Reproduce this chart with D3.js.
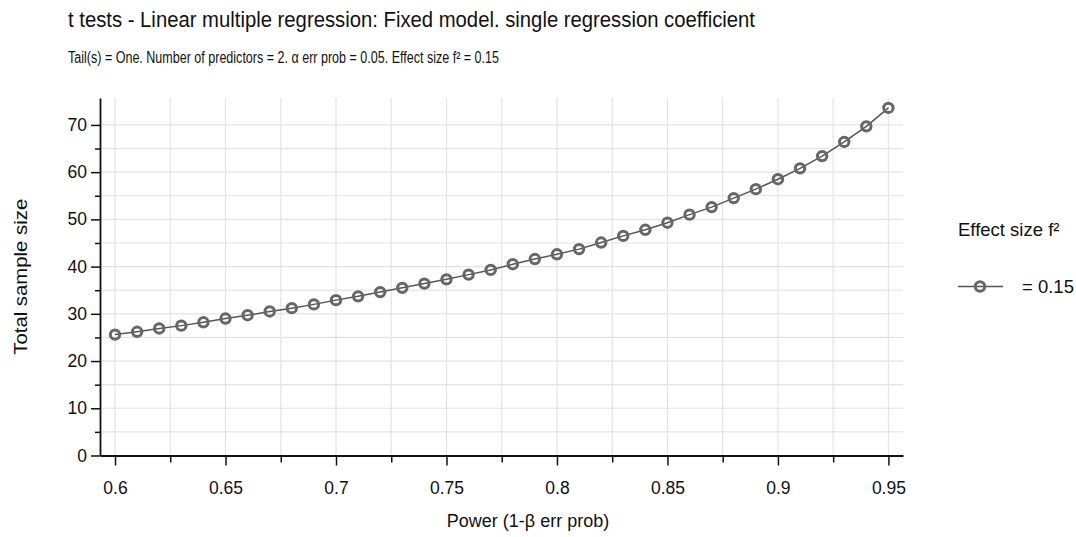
<!DOCTYPE html>
<html>
<head>
<meta charset="utf-8">
<script src="https://cdn.jsdelivr.net/npm/d3@7"></script>
<style>
  html, body { margin: 0; padding: 0; background: #fff; }
  svg text { font-family: "Liberation Sans", Arial, Helvetica, sans-serif; fill: #111; }
</style>
</head>
<body>
<svg id="chart" width="1076" height="537"></svg>
<script>
const title = "t tests - Linear multiple regression: Fixed model. single regression coefficient";
const subtitle = "Tail(s) = One. Number of predictors = 2. α err prob = 0.05. Effect size f² = 0.15";
const xLabel = "Power (1-β err prob)";
const yLabel = "Total sample size";
const legendTitle = "Effect size f²";
const seriesNames = ["= 0.15"];

const power = [0.60,0.61,0.62,0.63,0.64,0.65,0.66,0.67,0.68,0.69,0.70,0.71,0.72,0.73,0.74,0.75,0.76,0.77,0.78,0.79,0.80,0.81,0.82,0.83,0.84,0.85,0.86,0.87,0.88,0.89,0.90,0.91,0.92,0.93,0.94,0.95];
const sampleSize = [25.6,26.2,26.9,27.5,28.2,29.0,29.7,30.5,31.2,32.0,32.9,33.7,34.6,35.5,36.4,37.3,38.3,39.3,40.5,41.6,42.6,43.7,45.1,46.5,47.8,49.3,51.0,52.6,54.5,56.4,58.5,60.8,63.4,66.4,69.7,73.6];

const xMajorTicks = [0.6,0.65,0.7,0.75,0.8,0.85,0.9,0.95];
const xMinorTicks = [0.625,0.675,0.725,0.775,0.825,0.875,0.925];
const yMajorTicks = [0,10,20,30,40,50,60,70];
const yMinorTicks = [5,15,25,35,45,55,65];

const svg = d3.select("#chart");
const mLeft = 100, mRight = 903, mTop = 98, mBottom = 455.5;

const x = d3.scaleLinear().domain([0.5932, 0.9566]).range([mLeft, mRight]);
const y = d3.scaleLinear().domain([0, 75.7]).range([mBottom, mTop]);

// grid
const grid = svg.append("g");
grid.selectAll("line.vx").data(xMajorTicks.concat(xMinorTicks)).enter().append("line")
  .attr("x1", d => x(d)).attr("x2", d => x(d)).attr("y1", mTop).attr("y2", mBottom)
  .attr("stroke", "#e3e3e3").attr("stroke-width", 1.2);
grid.selectAll("line.hy").data(yMajorTicks.concat(yMinorTicks).filter(d => d > 0)).enter().append("line")
  .attr("x1", mLeft).attr("x2", mRight).attr("y1", d => y(d)).attr("y2", d => y(d))
  .attr("stroke", "#e3e3e3").attr("stroke-width", 1.2);

// axes
const xAxis = svg.append("g").attr("transform", `translate(0,${mBottom})`)
  .call(d3.axisBottom(x).tickValues(xMajorTicks).tickSize(10).tickSizeOuter(0).tickPadding(16).tickFormat(d3.format("")));
const xAxisMinor = svg.append("g").attr("transform", `translate(0,${mBottom})`)
  .call(d3.axisBottom(x).tickValues(xMinorTicks).tickSize(7).tickSizeOuter(0).tickFormat(""));
xAxisMinor.select(".domain").remove();
const yAxis = svg.append("g").attr("transform", `translate(${mLeft},0)`)
  .call(d3.axisLeft(y).tickValues(yMajorTicks).tickSize(9).tickSizeOuter(0).tickPadding(4));
const yAxisMinor = svg.append("g").attr("transform", `translate(${mLeft},0)`)
  .call(d3.axisLeft(y).tickValues(yMinorTicks).tickSize(5).tickSizeOuter(0).tickFormat(""));
yAxisMinor.select(".domain").remove();

[xAxis, yAxis, xAxisMinor, yAxisMinor].forEach(g => {
  g.selectAll(".domain").attr("stroke", "#111").attr("stroke-width", 1.8);
  g.selectAll(".tick line").attr("stroke", "#111").attr("stroke-width", 1.5);
  g.selectAll(".tick text").attr("font-size", 17.5).attr("font-family", "Liberation Sans, Arial, sans-serif").attr("fill", "#111");
});

// series line
const line = d3.line().x((d, i) => x(power[i])).y(d => y(d));
svg.append("path").datum(sampleSize).attr("d", line)
  .attr("fill", "none").attr("stroke", "#555").attr("stroke-width", 1.5);
svg.append("g").selectAll("circle").data(sampleSize).enter().append("circle")
  .attr("cx", (d, i) => x(power[i])).attr("cy", d => y(d)).attr("r", 4.7)
  .attr("fill", "none").attr("stroke", "#666").attr("stroke-width", 3);

// titles
svg.append("text").attr("x", 68).attr("y", 27).attr("font-size", 22)
  .attr("textLength", 687).attr("lengthAdjust", "spacingAndGlyphs").text(title);
svg.append("text").attr("x", 68).attr("y", 62.5).attr("font-size", 16)
  .attr("textLength", 431).attr("lengthAdjust", "spacingAndGlyphs").text(subtitle);
svg.append("text").attr("x", 528).attr("y", 527).attr("text-anchor", "middle").attr("font-size", 18).text(xLabel);
svg.append("text").attr("transform", `translate(26.5,${(mTop + mBottom) / 2}) rotate(-90)`).attr("text-anchor", "middle")
  .attr("font-size", 18.5).attr("textLength", 156).attr("lengthAdjust", "spacingAndGlyphs").text(yLabel);

// legend
svg.append("text").attr("x", 958).attr("y", 236).attr("font-size", 18.5).text(legendTitle);
const lg = svg.append("g").attr("transform", "translate(958,286.5)");
lg.append("line").attr("x1", 0).attr("x2", 45).attr("y1", 0).attr("y2", 0).attr("stroke", "#555").attr("stroke-width", 1.5);
lg.append("circle").attr("cx", 22).attr("cy", 0).attr("r", 4.7).attr("fill", "none").attr("stroke", "#666").attr("stroke-width", 3);
lg.append("text").attr("x", 64).attr("y", 6.5).attr("font-size", 18.5).text(seriesNames[0]);
</script>
</body>
</html>
